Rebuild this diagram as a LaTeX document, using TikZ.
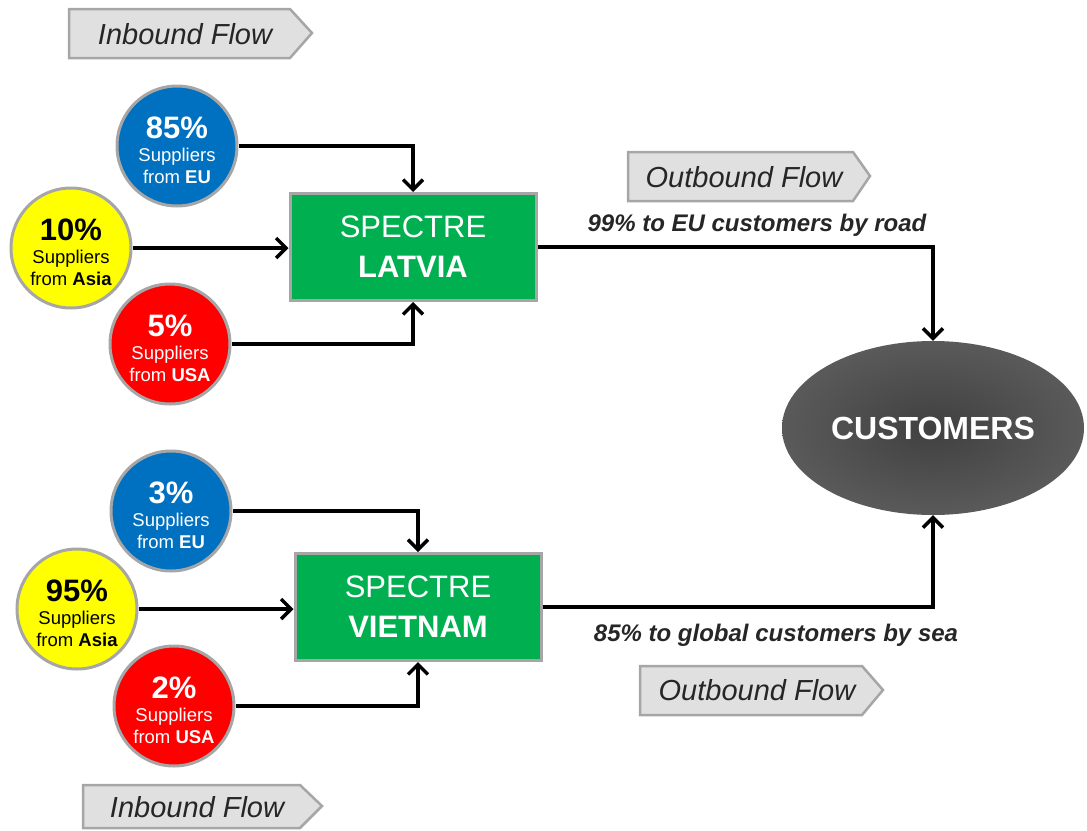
\documentclass[tikz,border=0pt]{standalone}
\usepackage{fontspec}
\setmainfont{Liberation Sans}
\usetikzlibrary{arrows.meta,shapes.geometric}
\definecolor{eublue}{HTML}{0070C0}
\definecolor{asiayel}{HTML}{FFFF00}
\definecolor{usared}{HTML}{FF0000}
\definecolor{boxgreen}{HTML}{00B050}
\definecolor{rimgray}{HTML}{A6A6A6}
\definecolor{flowfill}{HTML}{E0E0E0}
\definecolor{custin}{HTML}{404040}
\definecolor{custout}{HTML}{5A5A5A}
\newcommand{\pct}[1]{{\fontsize{31}{30}\selectfont\bfseries #1}}
\tikzset{
  circ/.style={circle, draw=rimgray, line width=3pt, minimum size=120pt, inner sep=0pt},
  ctext/.style={align=center, text=white, inner sep=0pt, font=\fontsize{18.5}{22}\selectfont},
  plant/.style={rectangle, draw=rimgray, line width=3pt, fill=boxgreen, text=white,
    minimum width=246pt, minimum height=107pt, align=center, font=\fontsize{31}{40}\selectfont},
  arr/.style={line width=3.5pt, -{Straight Barb[length=10pt,width=20pt,line width=3.5pt]}},
  flowshape/.style={draw=rimgray, line width=2.5pt, fill=flowfill},
  flowtext/.style={font=\fontsize{29}{30}\selectfont\itshape, text=black!85},
  routetext/.style={font=\fontsize{24}{26}\selectfont\bfseries\itshape, text=black!85}
}
\begin{document}
\begin{tikzpicture}[x=1pt,y=-1pt]
\useasboundingbox (0,0) rectangle (1087,830);
% flow tags
\draw[flowshape] (69,9) -- (290,9) -- (312,33) -- (290,58) -- (69,58) -- cycle;
\node[flowtext] (inA) at (185,34) {Inbound Flow};
\draw[flowshape] (83,785) -- (300,785) -- (322,806) -- (300,828) -- (83,828) -- cycle;
\node[flowtext] (inB) at (197,807) {Inbound Flow};
\draw[flowshape] (628,152) -- (853,152) -- (870,176) -- (853,201) -- (628,201) -- cycle;
\node[flowtext] (outA) at (744,177) {Outbound Flow};
\draw[flowshape] (640,666) -- (862,666) -- (883,690) -- (862,715) -- (640,715) -- cycle;
\node[flowtext] (outB) at (757,690) {Outbound Flow};
% plants
\node[plant] (lat) at (413,247) {SPECTRE\\\textbf{LATVIA}};
\node[plant] (vie) at (418,607) {SPECTRE\\\textbf{VIETNAM}};
% customers
\node[ellipse, inner color=custin, outer color=custout, minimum width=302pt, minimum height=174pt, inner sep=0pt,
  text=white, font=\fontsize{32}{34}\selectfont\bfseries] (cust) at (933,428) {CUSTOMERS};
% suppliers Latvia
\node[circ, fill=eublue] (eu1) at (177,146) {};
\node[ctext] (eu1t) at ([yshift=-4.5pt]eu1.center) {\pct{85\%}\\[1pt]Suppliers\\from \textbf{EU}};
\node[circ, fill=asiayel] (as1) at (71,248) {};
\node[ctext, text=black] (as1t) at ([yshift=-4.5pt]as1.center) {\pct{10\%}\\[1pt]Suppliers\\from \textbf{Asia}};
\node[circ, fill=usared] (us1) at (170,344) {};
\node[ctext] (us1t) at ([yshift=-4.5pt]us1.center) {\pct{5\%}\\[1pt]Suppliers\\from \textbf{USA}};
% suppliers Vietnam
\node[circ, fill=eublue] (eu2) at (171,511) {};
\node[ctext] (eu2t) at ([yshift=-4.5pt]eu2.center) {\pct{3\%}\\[1pt]Suppliers\\from \textbf{EU}};
\node[circ, fill=asiayel] (as2) at (77,609) {};
\node[ctext, text=black] (as2t) at ([yshift=-4.5pt]as2.center) {\pct{95\%}\\[1pt]Suppliers\\from \textbf{Asia}};
\node[circ, fill=usared] (us2) at (174,706) {};
\node[ctext] (us2t) at ([yshift=-4.5pt]us2.center) {\pct{2\%}\\[1pt]Suppliers\\from \textbf{USA}};
% connectors
\draw[arr] (eu1.east) -| (lat.north);
\draw[arr] (as1.east) -- (lat.west |- as1.east);
\draw[arr] (us1.east) -| (lat.south);
\draw[arr] (eu2.east) -| (vie.north);
\draw[arr] (as2.east) -- (vie.west |- as2.east);
\draw[arr] (us2.east) -| (vie.south);
\draw[arr] (lat.east) -| (cust.north);
\draw[arr] (vie.east) -| (cust.south);
% route labels
\node[routetext] (rA) at (757,225) {99\% to EU customers by road};
\node[routetext] (rB) at (776,635) {85\% to global customers by sea};
\end{tikzpicture}
\end{document}
